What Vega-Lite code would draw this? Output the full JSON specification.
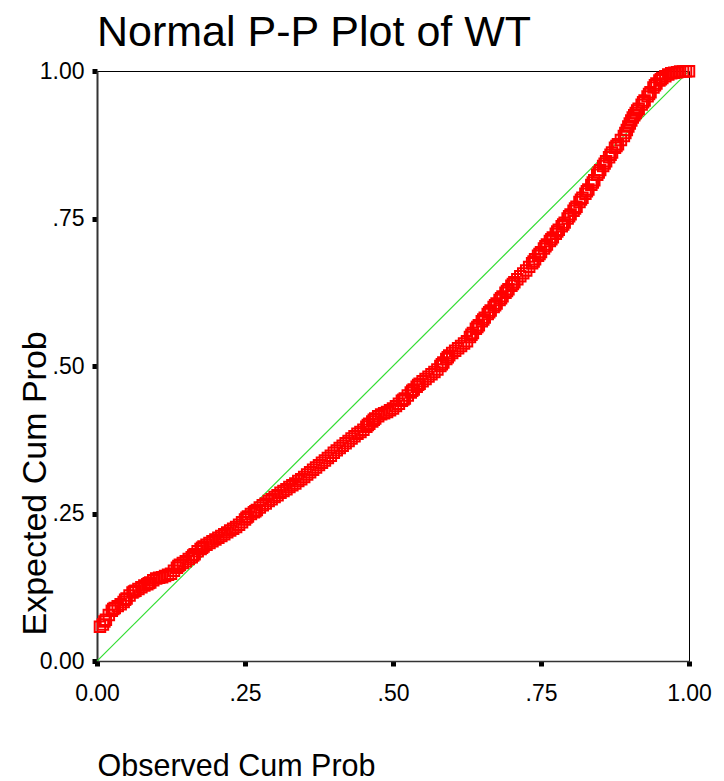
{
  "$schema": "https://vega.github.io/schema/vega-lite/v6.json",
  "width": 592,
  "height": 590,
  "autosize": {"type": "none"},
  "padding": {"left": 97, "top": 71, "right": 35, "bottom": 120},
  "background": "white",
  "config": {
    "view": {"stroke": "black", "strokeWidth": 1},
    "font": "Liberation Sans"
  },
  "title": {
    "text": "Normal P-P Plot of WT",
    "anchor": "start",
    "frame": "group",
    "fontSize": 43,
    "font": "Liberation Sans",
    "fontWeight": "normal",
    "color": "black",
    "offset": 5
  },
  "datasets": {
    "ref": [{"o": 0, "e": 0}, {"o": 1, "e": 1}],
    "pp": [
      {"o":0.005,"e":0.058},{"o":0.01,"e":0.062},{"o":0.015,"e":0.070},{"o":0.02,"e":0.078},{"o":0.025,"e":0.085},
      {"o":0.03,"e":0.090},{"o":0.035,"e":0.093},{"o":0.04,"e":0.096},{"o":0.045,"e":0.100},{"o":0.05,"e":0.106},
      {"o":0.055,"e":0.111},{"o":0.06,"e":0.116},{"o":0.065,"e":0.119},{"o":0.07,"e":0.122},{"o":0.075,"e":0.125},
      {"o":0.08,"e":0.128},{"o":0.085,"e":0.130},{"o":0.09,"e":0.133},{"o":0.095,"e":0.137},{"o":0.10,"e":0.140},
      {"o":0.105,"e":0.141},{"o":0.11,"e":0.142},{"o":0.115,"e":0.144},{"o":0.12,"e":0.146},{"o":0.125,"e":0.148},
      {"o":0.13,"e":0.153},{"o":0.135,"e":0.158},{"o":0.14,"e":0.163},{"o":0.145,"e":0.166},{"o":0.15,"e":0.169},
      {"o":0.155,"e":0.173},{"o":0.16,"e":0.176},{"o":0.165,"e":0.181},{"o":0.17,"e":0.186},{"o":0.175,"e":0.190},
      {"o":0.18,"e":0.194},{"o":0.185,"e":0.197},{"o":0.19,"e":0.200},{"o":0.195,"e":0.203},{"o":0.20,"e":0.206},
      {"o":0.205,"e":0.209},{"o":0.21,"e":0.212},{"o":0.215,"e":0.215},{"o":0.22,"e":0.218},{"o":0.225,"e":0.221},
      {"o":0.23,"e":0.224},{"o":0.235,"e":0.227},{"o":0.24,"e":0.231},{"o":0.245,"e":0.235},{"o":0.25,"e":0.240},
      {"o":0.255,"e":0.245},{"o":0.26,"e":0.249},{"o":0.265,"e":0.252},{"o":0.27,"e":0.256},{"o":0.275,"e":0.260},
      {"o":0.28,"e":0.264},{"o":0.285,"e":0.267},{"o":0.29,"e":0.271},{"o":0.295,"e":0.274},{"o":0.30,"e":0.278},
      {"o":0.305,"e":0.281},{"o":0.31,"e":0.285},{"o":0.315,"e":0.288},{"o":0.32,"e":0.291},{"o":0.325,"e":0.295},
      {"o":0.33,"e":0.298},{"o":0.335,"e":0.301},{"o":0.34,"e":0.305},{"o":0.345,"e":0.308},{"o":0.35,"e":0.312},
      {"o":0.355,"e":0.316},{"o":0.36,"e":0.320},{"o":0.365,"e":0.324},{"o":0.37,"e":0.328},{"o":0.375,"e":0.332},
      {"o":0.38,"e":0.336},{"o":0.385,"e":0.340},{"o":0.39,"e":0.344},{"o":0.395,"e":0.348},{"o":0.40,"e":0.353},
      {"o":0.405,"e":0.357},{"o":0.41,"e":0.361},{"o":0.415,"e":0.365},{"o":0.42,"e":0.369},{"o":0.425,"e":0.373},
      {"o":0.43,"e":0.377},{"o":0.435,"e":0.381},{"o":0.44,"e":0.385},{"o":0.445,"e":0.388},{"o":0.45,"e":0.392},
      {"o":0.455,"e":0.397},{"o":0.46,"e":0.402},{"o":0.465,"e":0.406},{"o":0.47,"e":0.411},{"o":0.475,"e":0.415},
      {"o":0.48,"e":0.418},{"o":0.485,"e":0.420},{"o":0.49,"e":0.422},{"o":0.495,"e":0.425},{"o":0.50,"e":0.428},
      {"o":0.505,"e":0.432},{"o":0.51,"e":0.436},{"o":0.515,"e":0.441},{"o":0.52,"e":0.445},{"o":0.525,"e":0.450},
      {"o":0.53,"e":0.455},{"o":0.535,"e":0.460},{"o":0.54,"e":0.465},{"o":0.545,"e":0.470},{"o":0.55,"e":0.474},
      {"o":0.555,"e":0.478},{"o":0.56,"e":0.482},{"o":0.565,"e":0.486},{"o":0.57,"e":0.490},{"o":0.575,"e":0.494},
      {"o":0.58,"e":0.500},{"o":0.585,"e":0.506},{"o":0.59,"e":0.512},{"o":0.595,"e":0.518},{"o":0.60,"e":0.522},
      {"o":0.605,"e":0.526},{"o":0.61,"e":0.530},{"o":0.615,"e":0.534},{"o":0.62,"e":0.538},{"o":0.625,"e":0.542},
      {"o":0.63,"e":0.549},{"o":0.635,"e":0.556},{"o":0.64,"e":0.563},{"o":0.645,"e":0.569},{"o":0.65,"e":0.576},
      {"o":0.655,"e":0.582},{"o":0.66,"e":0.588},{"o":0.665,"e":0.594},{"o":0.67,"e":0.600},{"o":0.675,"e":0.606},
      {"o":0.68,"e":0.612},{"o":0.685,"e":0.618},{"o":0.69,"e":0.624},{"o":0.695,"e":0.630},{"o":0.70,"e":0.636},
      {"o":0.705,"e":0.642},{"o":0.71,"e":0.647},{"o":0.715,"e":0.652},{"o":0.72,"e":0.657},{"o":0.725,"e":0.662},
      {"o":0.73,"e":0.668},{"o":0.735,"e":0.674},{"o":0.74,"e":0.681},{"o":0.745,"e":0.687},{"o":0.75,"e":0.693},
      {"o":0.755,"e":0.699},{"o":0.76,"e":0.706},{"o":0.765,"e":0.712},{"o":0.77,"e":0.718},{"o":0.775,"e":0.724},
      {"o":0.78,"e":0.731},{"o":0.785,"e":0.737},{"o":0.79,"e":0.743},{"o":0.795,"e":0.750},{"o":0.80,"e":0.757},
      {"o":0.805,"e":0.763},{"o":0.81,"e":0.770},{"o":0.815,"e":0.778},{"o":0.82,"e":0.785},{"o":0.825,"e":0.792},
      {"o":0.83,"e":0.799},{"o":0.835,"e":0.807},{"o":0.84,"e":0.815},{"o":0.845,"e":0.824},{"o":0.85,"e":0.832},
      {"o":0.855,"e":0.839},{"o":0.86,"e":0.847},{"o":0.865,"e":0.854},{"o":0.87,"e":0.862},{"o":0.875,"e":0.870},
      {"o":0.88,"e":0.876},{"o":0.885,"e":0.883},{"o":0.89,"e":0.890},{"o":0.895,"e":0.900},{"o":0.90,"e":0.911},
      {"o":0.905,"e":0.921},{"o":0.91,"e":0.929},{"o":0.915,"e":0.936},{"o":0.92,"e":0.943},{"o":0.925,"e":0.950},
      {"o":0.93,"e":0.957},{"o":0.935,"e":0.964},{"o":0.94,"e":0.972},{"o":0.945,"e":0.979},{"o":0.95,"e":0.984},
      {"o":0.955,"e":0.988},{"o":0.96,"e":0.991},{"o":0.965,"e":0.994},{"o":0.97,"e":0.996},{"o":0.975,"e":0.997},
      {"o":0.98,"e":0.998},{"o":0.985,"e":0.999},{"o":0.99,"e":0.999},{"o":0.995,"e":0.9995},{"o":1.0,"e":0.9997},
      {"o":0.0125,"e":0.067},{"o":0.0275,"e":0.088},{"o":0.0475,"e":0.104},{"o":0.0625,"e":0.118},{"o":0.0875,"e":0.132},
      {"o":0.1375,"e":0.161},{"o":0.1625,"e":0.179},{"o":0.1775,"e":0.192},{"o":0.2525,"e":0.243},{"o":0.2675,"e":0.254},
      {"o":0.4575,"e":0.400},{"o":0.4675,"e":0.409},{"o":0.5175,"e":0.443},{"o":0.5325,"e":0.458},{"o":0.5425,"e":0.468},
      {"o":0.5825,"e":0.503},{"o":0.5925,"e":0.515},{"o":0.6325,"e":0.553},{"o":0.6425,"e":0.566},{"o":0.6525,"e":0.579},
      {"o":0.6625,"e":0.591},{"o":0.6725,"e":0.603},{"o":0.6825,"e":0.615},{"o":0.6925,"e":0.627},{"o":0.7025,"e":0.639},
      {"o":0.7375,"e":0.677},{"o":0.7475,"e":0.690},{"o":0.7575,"e":0.703},{"o":0.7675,"e":0.715},{"o":0.7775,"e":0.728},
      {"o":0.7875,"e":0.740},{"o":0.7975,"e":0.754},{"o":0.8075,"e":0.767},{"o":0.8175,"e":0.782},{"o":0.8275,"e":0.796},
      {"o":0.8375,"e":0.811},{"o":0.8475,"e":0.828},{"o":0.8575,"e":0.843},{"o":0.8675,"e":0.858},{"o":0.8775,"e":0.873},
      {"o":0.8925,"e":0.895},{"o":0.8975,"e":0.906},{"o":0.9025,"e":0.916},{"o":0.9075,"e":0.925},{"o":0.9125,"e":0.933},
      {"o":0.9225,"e":0.947},{"o":0.9325,"e":0.961},{"o":0.9425,"e":0.976},{"o":0.9525,"e":0.986}
    ]
  },
  "encoding": {
    "x": {
      "field": "o",
      "type": "quantitative",
      "scale": {"domain": [0, 1], "nice": false, "zero": false},
      "axis": {
        "values": [0, 0.25, 0.5, 0.75, 1],
        "labelExpr": "datum.value == 0 ? '0.00' : datum.value == 1 ? '1.00' : '.' + format(datum.value * 100, '.0f')",
        "grid": false,
        "labelFlush": false,
        "labelFont": "Liberation Sans",
        "labelFontSize": 23,
        "labelColor": "black",
        "labelBaseline": "alphabetic",
        "labelPadding": 34,
        "domainColor": "#333333",
        "domainWidth": 1.5,
        "tickColor": "black",
        "tickSize": 5,
        "tickWidth": 5,
        "title": "Observed Cum Prob",
        "titleFont": "Liberation Sans",
        "titleFontSize": 30.5,
        "titleFontWeight": "normal",
        "titleColor": "black",
        "titleAlign": "left",
        "titleBaseline": "alphabetic",
        "titleX": 0,
        "titleY": 114
      }
    },
    "y": {
      "field": "e",
      "type": "quantitative",
      "scale": {"domain": [0, 1], "nice": false, "zero": false},
      "axis": {
        "values": [0, 0.25, 0.5, 0.75, 1],
        "labelExpr": "datum.value == 0 ? '0.00' : datum.value == 1 ? '1.00' : '.' + format(datum.value * 100, '.0f')",
        "grid": false,
        "labelFlush": false,
        "labelFont": "Liberation Sans",
        "labelFontSize": 23,
        "labelColor": "black",
        "labelBaseline": "middle",
        "labelAlign": "right",
        "labelPadding": 8,
        "domainColor": "#333333",
        "domainWidth": 2,
        "tickColor": "black",
        "tickSize": 5,
        "tickWidth": 5,
        "title": "Expected Cum Prob",
        "titleFont": "Liberation Sans",
        "titleFontSize": 34,
        "titleFontWeight": "normal",
        "titleColor": "black",
        "titleAngle": -90,
        "titleAlign": "left",
        "titleBaseline": "alphabetic",
        "titleX": -52,
        "titleY": 564
      }
    }
  },
  "layer": [
    {
      "data": {"name": "ref"},
      "mark": {"type": "line", "color": "#33dd33", "strokeWidth": 1.2, "clip": true}
    },
    {
      "data": {"name": "pp"},
      "mark": {"type": "point", "shape": "square", "filled": false, "stroke": "#ff0000", "strokeWidth": 2, "size": 110, "opacity": 1, "clip": false}
    }
  ]
}
